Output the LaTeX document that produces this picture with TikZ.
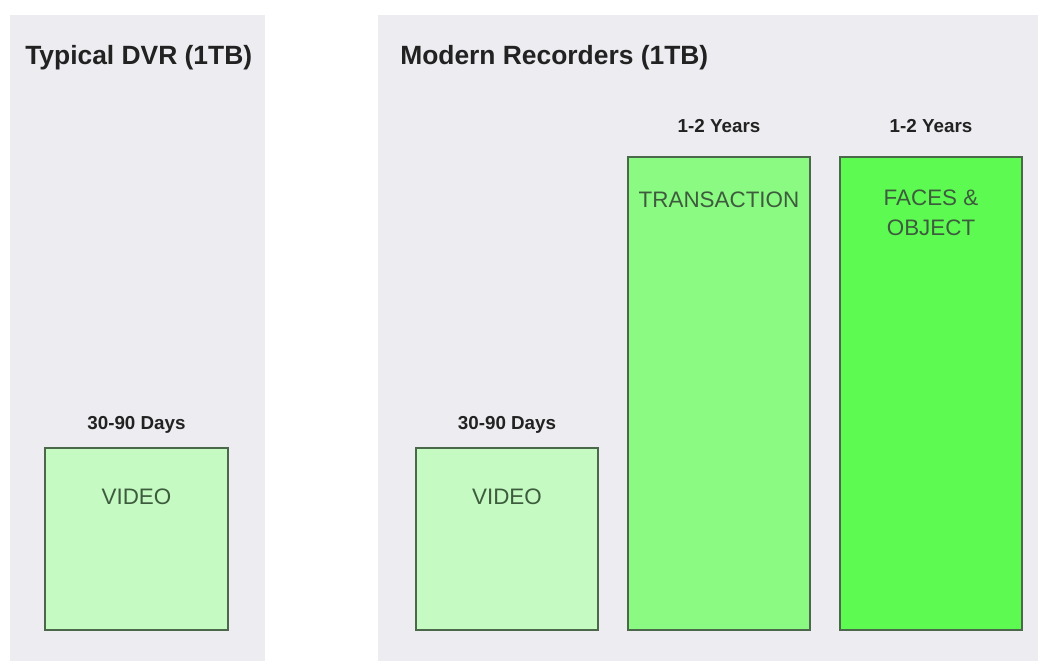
\documentclass[tikz,border=0pt]{standalone}
\usepackage{fontspec}
\setmainfont{Liberation Sans}
\definecolor{panel}{HTML}{EDEDF1}
\definecolor{vid}{HTML}{C6FAC3}
\definecolor{trans}{HTML}{8BFA82}
\definecolor{faces}{HTML}{5DFB52}
\definecolor{edge}{HTML}{4B684B}
\definecolor{boxtext}{HTML}{3D5C3D}
\definecolor{head}{HTML}{222222}
\begin{document}
\begin{tikzpicture}[x=0.75pt,y=-0.75pt,
  panelbox/.style={fill=panel,draw=none},
  store/.style={draw=edge,line width=1.5pt},
  title/.style={anchor=west,text=head,font=\fontsize{19.8}{22}\selectfont\bfseries,inner sep=0pt},
  period/.style={text=head,font=\fontsize{14.1}{16}\selectfont\bfseries,inner sep=0pt},
  content/.style={text=boxtext,font=\fontsize{16.8}{22.5}\selectfont,inner sep=0pt,align=center,anchor=north}]
\useasboundingbox (0,0) rectangle (1038,661);
\fill[white] (0,0) rectangle (1038,661);
% panels
\path[panelbox] (10,15) rectangle (265,661);
\path[panelbox] (378,15) rectangle (1038,661);
% titles
\node[title] (t1) at (25,58) {Typical DVR (1TB)};
\node[title] (t2) at (400,58) {Modern Recorders (1TB)};
% boxes
\draw[store,fill=vid] (45,448) rectangle (228,630);
\draw[store,fill=vid] (416,448) rectangle (598,630);
\draw[store,fill=trans] (628,157) rectangle (810,630);
\draw[store,fill=faces] (840,157) rectangle (1022,630);
% period labels
\node[period] (p1) at (136.5,425) {30-90 Days};
\node[period] (p2) at (507,425) {30-90 Days};
\node[period] (p3) at (719,126) {1-2 Years};
\node[period] (p4) at (931,126) {1-2 Years};
% content labels
\node[content] (c1) at (136.5,489) {VIDEO};
\node[content] (c2) at (507,489) {VIDEO};
\node[content] (c3) at (719,192) {TRANSACTION};
\node[content] (c4) at (931,190) {FACES \&\\OBJECT};
\end{tikzpicture}
\end{document}
